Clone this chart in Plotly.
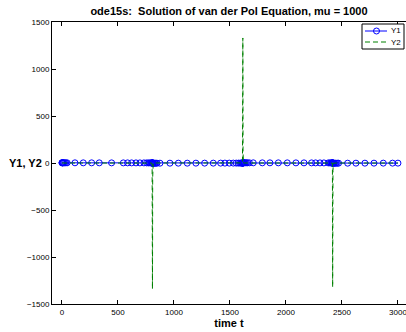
import plotly.graph_objects as go

# ode15s output times
t = [0, 1, 3, 6, 10, 16, 24, 34, 46, 116, 190, 265, 333, 443, 548, 586, 622, 661, 696, 732,
     756, 772, 786, 796, 802, 805, 807, 808, 809, 810, 812, 815, 820, 828, 838, 848, 875,
     964, 1039, 1119, 1196, 1274, 1351, 1417, 1455, 1494, 1530, 1556, 1576, 1592, 1603,
     1609, 1612, 1614, 1615, 1616, 1617, 1619, 1622, 1627, 1635, 1645, 1656, 1673, 1708,
     1789, 1857, 1932, 2012, 2089, 2161, 2229, 2265, 2304, 2339, 2378, 2392, 2402, 2409,
     2413, 2415, 2416, 2417, 2418, 2420, 2423, 2428, 2436, 2446, 2458, 2470, 2551, 2625,
     2705, 2786, 2869, 2952, 3000]

y1 = [2.00, 2.00, 2.00, 1.99, 1.99, 1.98, 1.97, 1.96, 1.95, 1.88, 1.80, 1.72, 1.64, 1.52,
      1.39, 1.34, 1.29, 1.24, 1.19, 1.13, 1.09, 1.06, 1.03, 1.01, 1.00, 0.98, 0.90, 0.40,
      -0.80, -1.70, -1.98, -2.00, -2.00, -2.00, -1.99, -1.98, -1.96, -1.87, -1.79, -1.70,
      -1.61, -1.51, -1.40, -1.29, -1.23, -1.16, -1.10, -1.06, -1.03, -1.01, -1.00, -0.99,
      -0.95, -0.60, 0.30, 1.40, 1.90, 1.99, 2.00, 2.00, 1.99, 1.99, 1.98, 1.96, 1.92, 1.83,
      1.75, 1.67, 1.57, 1.47, 1.37, 1.27, 1.21, 1.15, 1.09, 1.04, 1.02, 1.01, 1.00, 0.99,
      0.97, 0.85, 0.20, -1.20, -1.90, -1.99, -2.00, -2.00, -1.99, -1.99, -1.98, -1.89,
      -1.80, -1.71, -1.61, -1.50, -1.39, -1.33]

y2 = [0.0, 0.0, 0.0, 0.0, 0.0, 0.0, 0.0, 0.0, 0.0, 0.0, 0.0, 0.0, 0.0, 0.0, 0.0, 0.0,
      0.0, 0.0, 0.0, 0.0, 0.0, 0.0, 0.0, 0.0, -1.0, -20.0, -300.0, -1340.0, -900.0,
      -150.0, -5.0, 0.0, 0.0, 0.0, 0.0, 0.0, 0.0, 0.0, 0.0, 0.0, 0.0, 0.0, 0.0, 0.0, 0.0,
      0.0, 0.0, 0.0, 0.0, 0.0, 0.0, 1.0, 20.0, 400.0, 1330.0, 800.0, 100.0, 2.0, 0.0, 0.0,
      0.0, 0.0, 0.0, 0.0, 0.0, 0.0, 0.0, 0.0, 0.0, 0.0, 0.0, 0.0, 0.0, 0.0, 0.0, 0.0, 0.0,
      0.0, 0.0, 0.0, -15.0, -350.0, -1320.0, -700.0, -80.0, -2.0, 0.0, 0.0, 0.0, 0.0, 0.0,
      0.0, 0.0, 0.0, 0.0, 0.0, 0.0, 0.0]

series_names = ["Y1", "Y2"]
series_colors = ["#0000FF", "#008000"]
x_ticks = [0, 500, 1000, 1500, 2000, 2500, 3000]
y_ticks = [-1500, -1000, -500, 0, 500, 1000, 1500]

FONT = "Liberation Sans, Arial, sans-serif"
W, H = 406, 332
ML, MR, MT, MB = 52, 0, 22, 28
PW, PH = W - ML - MR, H - MT - MB
DASH = "5px,3px"

fig = go.Figure()
fig.add_trace(go.Scatter(
    x=t, y=y1, name=series_names[0], mode="lines+markers",
    line=dict(color=series_colors[0], width=1),
    marker=dict(symbol="circle-open", size=6, color=series_colors[0], line=dict(width=1)),
))
fig.add_trace(go.Scatter(
    x=t, y=y2, name=series_names[1], mode="lines",
    line=dict(color=series_colors[1], width=1, dash=DASH),
))

fig.update_layout(
    width=W, height=H,
    margin=dict(l=ML, r=MR, t=MT, b=MB),
    paper_bgcolor="white", plot_bgcolor="white",
    font=dict(family=FONT, size=8, color="black"),
    title=dict(text="<b>ode15s:  Solution of van der Pol Equation, mu = 1000</b>",
               x=0.5, xref="paper", xanchor="center",
               y=1 - 11 / H, yref="container", yanchor="middle",
               font=dict(size=11, family=FONT, color="black")),
    showlegend=False,
    xaxis=dict(range=[-89, 3072], tickvals=x_ticks, showgrid=False, zeroline=False,
               showline=True, linecolor="black", linewidth=1, mirror="ticks",
               ticks="inside", ticklen=4, tickcolor="black", ticklabeloverflow="allow",
               title=dict(text="<b>time t</b>", font=dict(size=11, family=FONT), standoff=0)),
    yaxis=dict(range=[-1500, 1500], tickvals=y_ticks, showgrid=False, zeroline=False,
               showline=True, linecolor="black", linewidth=1,
               ticks="inside", ticklen=4, tickcolor="black"),
)
fig.add_annotation(text="<b>Y1, Y2</b>", xref="paper", yref="paper", x=0, y=0.5,
                   xanchor="right", yanchor="middle", showarrow=False,
                   xshift=-8, font=dict(size=11, family=FONT, color="black"))


# custom compact legend (pixel positions -> paper coords)
def px(xp):
    return (xp - ML) / PW


def py(yp):
    return 1 - (yp - MT) / PH


fig.add_shape(type="rect", xref="paper", yref="paper",
              x0=px(362), x1=px(404), y0=py(49), y1=py(24),
              line=dict(color="black", width=1), fillcolor="white", layer="above")
rows = [31, 42]
dashes = ["solid", DASH]
for name, color, yr, dsh in zip(series_names, series_colors, rows, dashes):
    fig.add_shape(type="line", xref="paper", yref="paper",
                  x0=px(365), x1=px(387), y0=py(yr), y1=py(yr),
                  line=dict(color=color, width=1, dash=dsh), layer="above")
    fig.add_annotation(text=name, xref="paper", yref="paper", x=px(389), y=py(yr),
                       xanchor="left", yanchor="middle", showarrow=False,
                       font=dict(size=8, family=FONT, color="black"))
fig.add_shape(type="circle", xref="paper", yref="paper",
              x0=px(373.5), x1=px(379.5), y0=py(34), y1=py(28),
              line=dict(color=series_colors[0], width=1), layer="above")

fig.write_html("out.html")
